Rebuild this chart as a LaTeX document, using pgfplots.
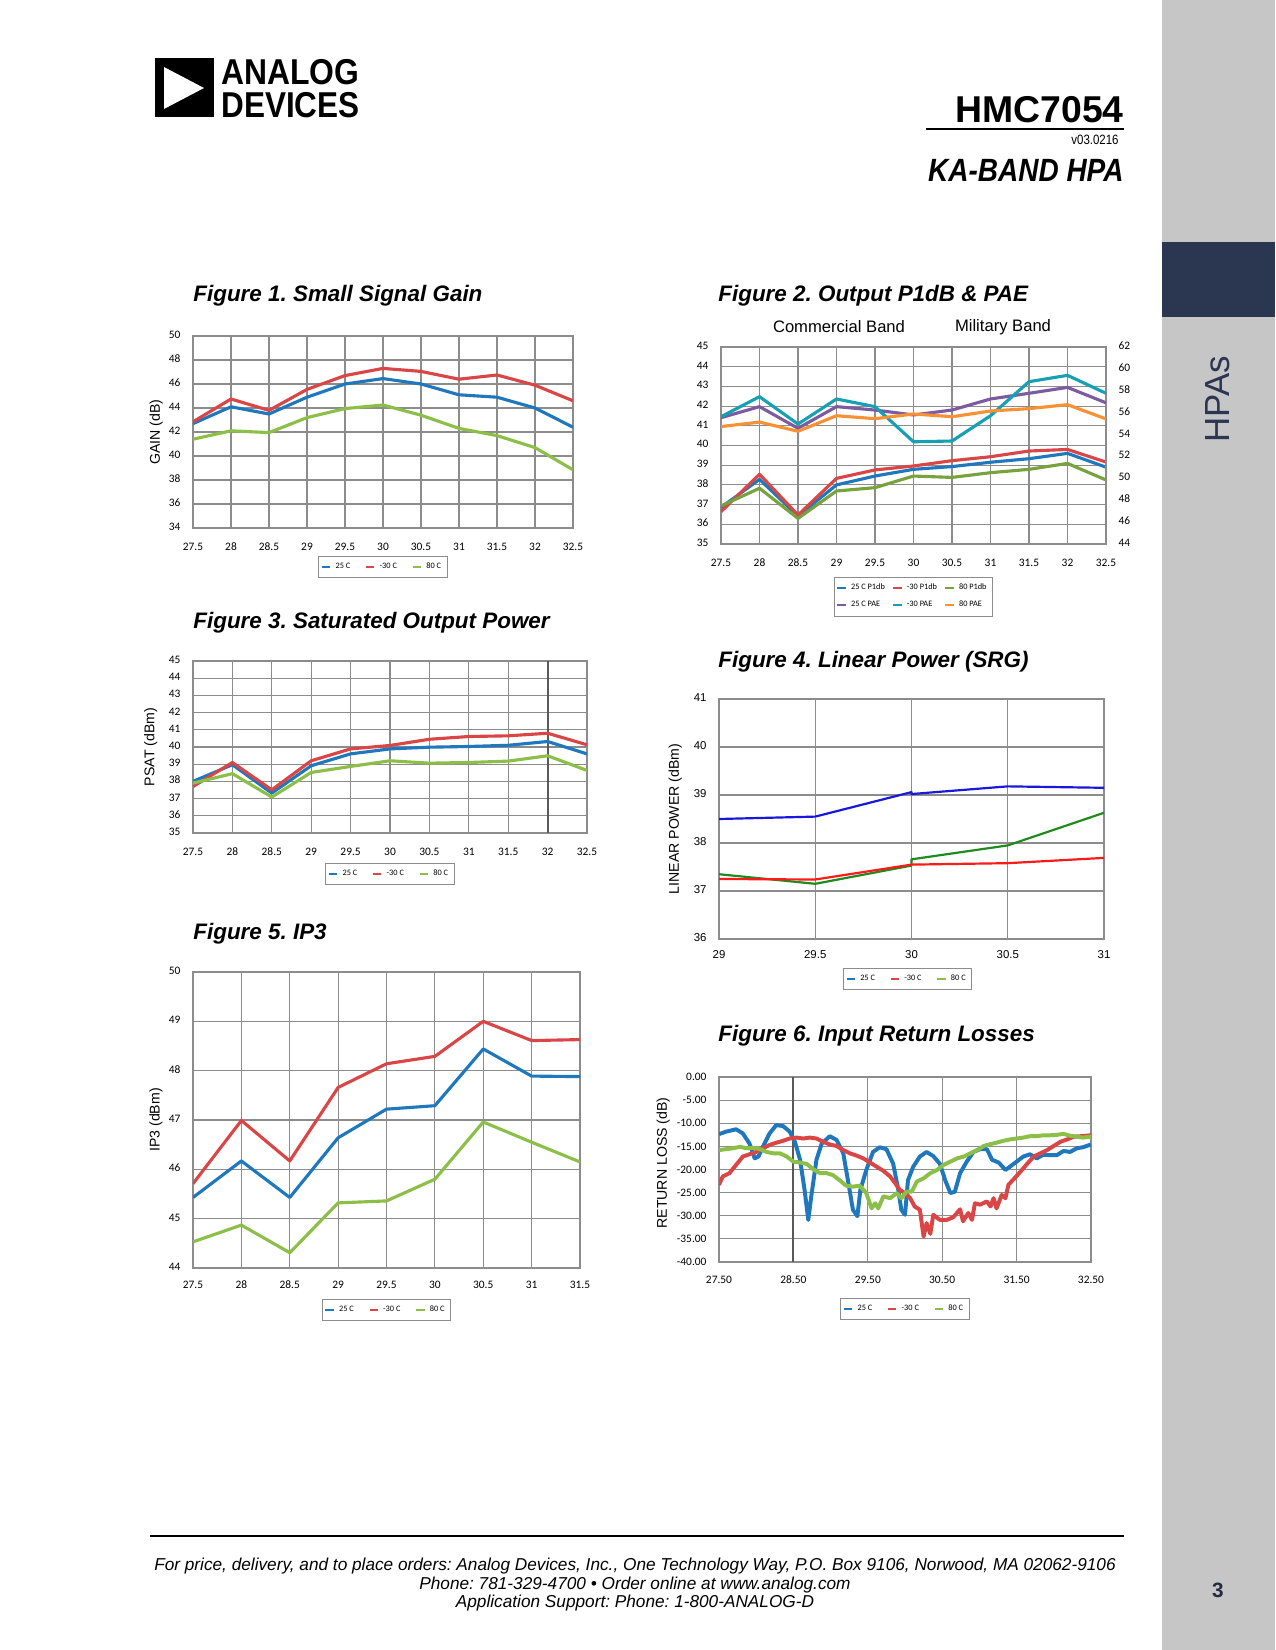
\documentclass[border=0pt]{standalone}
\usepackage{pgfplots}
\pgfplotsset{compat=1.18}
\usepackage{fontspec}
\usepackage{graphicx}
\setmainfont{Liberation Sans}
\newfontfamily\carlito{Carlito}
\frenchspacing

\definecolor{cblue}{HTML}{1F78BE}
\definecolor{cred}{HTML}{DA4646}
\definecolor{cgreen}{HTML}{8CBF47}
\definecolor{cpurple}{HTML}{7D5BA0}
\definecolor{cteal}{HTML}{15A0B3}
\definecolor{corange}{HTML}{F79134}
\definecolor{lblue}{HTML}{1818DC}
\definecolor{lred}{HTML}{FF1A1A}
\definecolor{lgreen}{HTML}{1F8A1F}
\definecolor{gridgray}{HTML}{8C8C8C}
\definecolor{sidegray}{HTML}{C6C6C6}
\definecolor{navy}{HTML}{2B3650}

% 1 px of the 1275x1650 page
\def\U{0.48bp}

\pgfplotsset{
  legend image code/.code={\draw[#1, line width=1.1bp] (0bp,0bp) -- (4bp,0bp);},
  adi/.style={
    scale only axis, anchor=south west,
    axis line style={draw=gridgray, line width=0.9bp},
    grid=major,
    major grid style={draw=gridgray, line width=0.5bp},
    major tick length=0pt,
    /pgf/number format/assume math mode=true,
    typeset ticklabels with strut,
    tick label style={font=\carlito\fontsize{5.5}{6}\selectfont},
    xticklabel style={yshift=-3bp},
    yticklabel style={xshift=-2.5bp},
    every axis plot/.append style={line width=1.5bp, line join=round},
    legend style={font=\carlito\fontsize{4}{4.5}\selectfont, draw=gridgray, line width=0.4bp,
      inner sep=1bp, legend columns=3,
      /tikz/every even column/.append style={column sep=5bp}},
    legend cell align=left,
  },
  ylab/.style={every axis y label/.style={at={(axis description cs:#1,0.5)}, rotate=90,
    anchor=center, font=\fontsize{6.8}{8}\selectfont}},
}

\begin{document}
\begin{tikzpicture}
\useasboundingbox (0,0) rectangle (1275*\U,-1650*\U);
\fill[white] (0,0) rectangle (1275*\U,-1650*\U);

% side bar
\fill[sidegray] (1162*\U,0) rectangle (1275*\U,-1650*\U);
\fill[navy] (1162*\U,-242*\U) rectangle (1275*\U,-317*\U);
\node[rotate=90, text=navy, inner sep=0] at (1218*\U,-399*\U) {\fontsize{16.8}{17}\selectfont HPAs};
\node[anchor=base, text=navy!80!black, inner sep=0] at (1218*\U,-1597*\U) {\fontsize{10}{12}\selectfont\bfseries 3};

% header
\fill[black] (155*\U,-58*\U) rectangle (214*\U,-117*\U);
\fill[white] (164*\U,-67*\U) -- (204*\U,-88*\U) -- (164*\U,-109*\U) -- cycle;
\node[anchor=base west, inner sep=0] at (221*\U,-84*\U) {\fontsize{16.5}{16.5}\selectfont\bfseries\scalebox{0.93}[1.05]{ANALOG}};
\node[anchor=base west, inner sep=0] at (221*\U,-117*\U) {\fontsize{16.5}{16.5}\selectfont\bfseries\scalebox{0.92}[1.05]{DEVICES}};
\node[anchor=base east, inner sep=0] at (1124*\U,-122*\U) {\fontsize{18}{18}\selectfont\bfseries HMC7054};
\draw[line width=1.1bp] (926*\U,-129*\U) -- (1124*\U,-129*\U);
\node[anchor=base east, inner sep=0] at (1119*\U,-144*\U) {\fontsize{6.5}{7}\selectfont\scalebox{0.85}[1]{v03.0216}};
\node[anchor=base east, inner sep=0] at (1124*\U,-181*\U) {\fontsize{15.5}{16}\selectfont\bfseries\itshape\scalebox{0.87}[1]{KA-BAND HPA}};

% footer
\draw[line width=0.7bp] (150*\U,-1536*\U) -- (1124*\U,-1536*\U);
\node[anchor=base, inner sep=0] at (635*\U,-1570*\U) {\fontsize{8.3}{9}\selectfont\itshape For price, delivery, and to place orders: Analog Devices, Inc., One Technology Way, P.O. Box 9106, Norwood, MA 02062-9106};
\node[anchor=base, inner sep=0] at (635*\U,-1589*\U) {\fontsize{8.3}{9}\selectfont\itshape Phone: 781-329-4700 • Order online at www.analog.com};
\node[anchor=base, inner sep=0] at (635*\U,-1607*\U) {\fontsize{8.3}{9}\selectfont\itshape Application Support: Phone: 1-800-ANALOG-D};

% figure titles
\tikzset{figtitle/.style={anchor=base west, inner sep=0, font=\fontsize{10.8}{12}\selectfont\bfseries\itshape}}
\node[figtitle] at (193*\U,-301*\U) {Figure 1. Small Signal Gain};
\node[figtitle] at (718*\U,-301*\U) {Figure 2. Output P1dB \& PAE};
\node[figtitle] at (193*\U,-628*\U) {Figure 3. Saturated Output Power};
\node[figtitle] at (718*\U,-667*\U) {Figure 4. Linear Power (SRG)};
\node[figtitle] at (193*\U,-939*\U) {Figure 5. IP3};
\node[figtitle] at (718*\U,-1041*\U) {Figure 6. Input Return Losses};
\node[font=\fontsize{8}{9}\selectfont] at (839*\U,-327*\U) {Commercial Band};
\node[font=\fontsize{8}{9}\selectfont] at (1003*\U,-327*\U) {Military Band};

% ---------- Figure 1
\begin{axis}[adi, at={(193*\U,-528*\U)}, width=182.4bp, height=92.16bp,
  xmin=27.5, xmax=32.5, ymin=34, ymax=50,
  xtick={27.5,28,28.5,29,29.5,30,30.5,31,31.5,32,32.5}, ytick={34,36,38,40,42,44,46,48,50},
  ylabel={GAIN (dB)}, ylab=-0.097,
  legend style={at={(0.5,-0.146)}, anchor=north}]
\addplot[cblue] coordinates {(27.5,42.7) (28,44.1) (28.5,43.5) (29,44.9) (29.5,46.0) (30,46.45) (30.5,46.0) (31,45.1) (31.5,44.9) (32,44.0) (32.5,42.4)};
\addlegendentry{25 C}
\addplot[cred] coordinates {(27.5,42.85) (28,44.75) (28.5,43.8) (29,45.55) (29.5,46.7) (30,47.3) (30.5,47.05) (31,46.4) (31.5,46.75) (32,45.9) (32.5,44.6)};
\addlegendentry{-30 C}
\addplot[cgreen] coordinates {(27.5,41.4) (28,42.1) (28.5,41.95) (29,43.2) (29.5,43.95) (30,44.25) (30.5,43.4) (31,42.3) (31.5,41.7) (32,40.7) (32.5,38.85)};
\addlegendentry{80 C}
\end{axis}

% ---------- Figure 2
\begin{axis}[adi, at={(721*\U,-544*\U)}, width=184.8bp, height=94.56bp,
  xmin=27.5, xmax=32.5, ymin=35, ymax=45,
  xtick={27.5,28,28.5,29,29.5,30,30.5,31,31.5,32,32.5}, ytick={35,36,...,45},
  legend style={at={(0.5,-0.168)}, anchor=north, row sep=0bp,
    /tikz/every even column/.append style={column sep=1.5bp}}]
\addplot[cblue] coordinates {(27.5,36.86) (28,38.28) (28.5,36.42) (29,38.0) (29.5,38.45) (30,38.79) (30.5,38.93) (31,39.15) (31.5,39.33) (32,39.6) (32.5,38.9)};
\addlegendentry{25 C P1db}
\addplot[cred] coordinates {(27.5,36.64) (28,38.54) (28.5,36.47) (29,38.33) (29.5,38.76) (30,38.96) (30.5,39.23) (31,39.43) (31.5,39.72) (32,39.8) (32.5,39.16)};
\addlegendentry{-30 P1db}
\addplot[cgreen!85!black] coordinates {(27.5,36.93) (28,37.83) (28.5,36.3) (29,37.69) (29.5,37.86) (30,38.45) (30.5,38.38) (31,38.62) (31.5,38.79) (32,39.09) (32.5,38.25)};
\addlegendentry{80 P1db}
\addlegendimage{cpurple}
\addlegendentry{25 C PAE}
\addlegendimage{cteal}
\addlegendentry{-30 PAE}
\addlegendimage{corange}
\addlegendentry{80 PAE}
\end{axis}
\begin{axis}[adi, at={(721*\U,-544*\U)}, width=184.8bp, height=94.56bp,
  xmin=27.5, xmax=32.5, ymin=44, ymax=62, ytick={44,46,...,62},
  axis y line*=right, axis x line=none, grid=none,
  yticklabel style={xshift=5bp}]
\addplot[cpurple] coordinates {(27.5,55.54) (28,56.55) (28.5,54.57) (29,56.55) (29.5,56.24) (30,55.79) (30.5,56.24) (31,57.25) (31.5,57.77) (32,58.31) (32.5,56.9)};
\addplot[cteal] coordinates {(27.5,55.63) (28,57.46) (28.5,54.96) (29,57.25) (29.5,56.55) (30,53.34) (30.5,53.41) (31,55.72) (31.5,58.83) (32,59.41) (32.5,57.77)};
\addplot[corange] coordinates {(27.5,54.73) (28,55.14) (28.5,54.3) (29,55.72) (29.5,55.45) (30,55.88) (30.5,55.63) (31,56.15) (31.5,56.37) (32,56.73) (32.5,55.43)};
\end{axis}

% ---------- Figure 3
\begin{axis}[adi, at={(193*\U,-833*\U)}, width=189.12bp, height=82.56bp,
  xmin=27.5, xmax=32.5, ymin=35, ymax=45,
  xtick={27.5,28,28.5,29,29.5,30,30.5,31,31.5,32,32.5}, ytick={35,36,...,45},
  extra x ticks={32}, extra x tick labels={},
  extra x tick style={grid=major, major grid style={draw=gray!70!black, line width=0.9bp}},
  ylabel={PSAT (dBm)}, ylab=-0.107,
  legend style={at={(0.5,-0.174)}, anchor=north}]
\addplot[cblue] coordinates {(27.5,38.0) (28,38.97) (28.5,37.32) (29,38.91) (29.5,39.6) (30,39.89) (30.5,39.99) (31,40.03) (31.5,40.1) (32,40.32) (32.5,39.6)};
\addlegendentry{25 C}
\addplot[cred] coordinates {(27.5,37.7) (28,39.1) (28.5,37.51) (29,39.2) (29.5,39.89) (30,40.09) (30.5,40.45) (31,40.61) (31.5,40.65) (32,40.8) (32.5,40.13)};
\addlegendentry{-30 C}
\addplot[cgreen] coordinates {(27.5,37.9) (28,38.45) (28.5,37.09) (29,38.52) (29.5,38.87) (30,39.2) (30.5,39.06) (31,39.1) (31.5,39.18) (32,39.49) (32.5,38.64)};
\addlegendentry{80 C}
\end{axis}

% ---------- Figure 4
\begin{axis}[adi, at={(719*\U,-939*\U)}, width=184.8bp, height=115.2bp,
  xmin=29, xmax=31, ymin=36, ymax=41,
  xtick={29,29.5,30,30.5,31}, ytick={36,37,38,39,40,41},
  tick label style={font=\fontsize{5.5}{6}\selectfont},
  xticklabel style={yshift=1.5bp},
  every axis plot/.append style={line width=1.05bp},
  ylabel={LINEAR POWER (dBm)}, ylab=-0.114,
  legend style={at={(0.49,-0.121)}, anchor=north}]
\addlegendimage{cblue}
\addlegendentry{25 C}
\addlegendimage{cred}
\addlegendentry{-30 C}
\addlegendimage{cgreen}
\addlegendentry{80 C}
\addplot[lblue] coordinates {(29,38.5) (29.5,38.55) (30,39.06) (30,39.02) (30.5,39.18) (31,39.15)};
\addplot[lgreen] coordinates {(29,37.35) (29.5,37.15) (30,37.53) (30,37.66) (30.5,37.95) (31,38.63)};
\addplot[lred] coordinates {(29,37.25) (29.5,37.24) (30,37.55) (30.5,37.58) (31,37.69)};
\end{axis}

% ---------- Figure 5
\begin{axis}[adi, at={(193*\U,-1268*\U)}, width=185.76bp, height=142.08bp,
  xmin=27.5, xmax=31.5, ymin=44, ymax=50,
  xtick={27.5,28,28.5,29,29.5,30,30.5,31,31.5}, ytick={44,45,...,50},
  xticklabel style={yshift=1bp},
  ylabel={IP3 (dBm)}, ylab=-0.096,
  legend style={at={(0.5,-0.105)}, anchor=north}]
\addplot[cblue] coordinates {(27.5,45.43) (28,46.17) (28.5,45.43) (29,46.64) (29.5,47.22) (30,47.29) (30.5,48.44) (31,47.89) (31.5,47.88)};
\addlegendentry{25 C}
\addplot[cred] coordinates {(27.5,45.71) (28,46.99) (28.5,46.17) (29,47.66) (29.5,48.14) (30,48.29) (30.5,49.0) (31,48.61) (31.5,48.63)};
\addlegendentry{-30 C}
\addplot[cgreen] coordinates {(27.5,44.53) (28,44.87) (28.5,44.31) (29,45.32) (29.5,45.36) (30,45.8) (30.5,46.96) (31,46.55) (31.5,46.15)};
\addlegendentry{80 C}
\end{axis}

% ---------- Figure 6
\begin{axis}[adi, at={(719*\U,-1262*\U)}, width=178.56bp, height=88.8bp,
  xmin=27.5, xmax=32.5, ymin=-40, ymax=0,
  xtick={27.5,28.5,29.5,30.5,31.5,32.5}, ytick={-40,-35,...,0},
  xticklabel={\pgfmathprintnumber[fixed,fixed zerofill,precision=2,assume math mode=true]{\tick}},
  yticklabel={\pgfmathprintnumber[fixed,fixed zerofill,precision=2,assume math mode=true]{\tick}},
  xticklabel style={yshift=0bp},
  extra x ticks={28.5}, extra x tick labels={},
  extra x tick style={grid=major, major grid style={draw=gray!70!black, line width=0.9bp}},
  every axis plot/.append style={line width=1.9bp},
  ylabel={RETURN LOSS (dB)},
  every axis y label/.style={at={(axis description cs:-0.15,0.535)}, rotate=90, anchor=center, font=\fontsize{6.8}{8}\selectfont},
  legend style={at={(0.5,-0.195)}, anchor=north}]
\addplot[cblue] coordinates {(27.5,-12.35) (27.6,-11.8) (27.73,-11.3) (27.82,-12.2) (27.91,-14.4) (27.98,-17.6) (28.03,-17.2) (28.09,-15.1) (28.18,-12.2) (28.27,-10.4) (28.36,-10.6) (28.45,-11.8) (28.52,-14.0) (28.59,-17.9) (28.65,-24.4) (28.7,-30.9) (28.74,-25.8) (28.81,-17.9) (28.88,-14.4) (28.99,-12.8) (29.08,-13.6) (29.17,-16.5) (29.24,-23.0) (29.3,-28.7) (29.36,-30.1) (29.4,-24.4) (29.48,-20.1) (29.57,-16.2) (29.66,-15.2) (29.75,-15.6) (29.84,-18.7) (29.91,-24.4) (29.95,-28.7) (30.0,-29.8) (30.04,-22.3) (30.11,-19.4) (30.2,-17.2) (30.29,-16.2) (30.38,-17.1) (30.47,-18.8) (30.54,-22.3) (30.61,-25.1) (30.67,-24.8) (30.74,-20.8) (30.83,-18.3) (30.92,-16.2) (31.01,-15.6) (31.1,-15.6) (31.17,-17.9) (31.26,-18.5) (31.35,-20.1) (31.41,-19.4) (31.5,-18.3) (31.59,-17.2) (31.68,-16.7) (31.77,-17.6) (31.86,-16.8) (31.95,-16.9) (32.04,-16.9) (32.13,-16.0) (32.22,-16.2) (32.31,-15.4) (32.39,-15.2) (32.5,-14.6)};
\addlegendentry{25 C}
\addplot[cred] coordinates {(27.5,-23.3) (27.55,-21.5) (27.64,-20.8) (27.73,-19.0) (27.82,-17.2) (27.91,-16.7) (28.0,-16.2) (28.09,-15.4) (28.18,-14.7) (28.27,-14.2) (28.36,-13.8) (28.45,-13.3) (28.54,-13.1) (28.63,-13.3) (28.72,-13.1) (28.81,-13.3) (28.9,-14.0) (28.99,-14.6) (29.08,-14.9) (29.17,-15.8) (29.26,-16.5) (29.35,-17.0) (29.44,-17.6) (29.53,-18.5) (29.62,-19.4) (29.71,-20.3) (29.8,-21.5) (29.87,-23.0) (29.93,-24.4) (30.0,-25.1) (30.07,-26.2) (30.13,-28.0) (30.2,-28.7) (30.25,-34.5) (30.29,-31.6) (30.34,-33.9) (30.38,-29.8) (30.47,-30.9) (30.56,-30.9) (30.65,-30.3) (30.74,-28.6) (30.78,-31.2) (30.85,-29.4) (30.9,-30.9) (30.94,-27.3) (31.01,-27.6) (31.1,-26.9) (31.15,-28.0) (31.19,-26.2) (31.23,-28.4) (31.3,-25.5) (31.35,-26.2) (31.39,-23.3) (31.46,-22.1) (31.55,-20.5) (31.64,-18.8) (31.73,-17.2) (31.82,-16.5) (31.91,-15.8) (32.0,-14.9) (32.09,-14.0) (32.18,-13.5) (32.27,-12.9) (32.36,-12.8) (32.5,-12.6)};
\addlegendentry{-30 C}
\addplot[cgreen] coordinates {(27.5,-15.8) (27.6,-15.6) (27.69,-15.4) (27.78,-15.1) (27.87,-15.4) (27.96,-15.3) (28.05,-15.6) (28.14,-16.2) (28.23,-16.5) (28.32,-16.5) (28.41,-17.2) (28.5,-18.3) (28.59,-18.5) (28.68,-18.8) (28.77,-20.0) (28.86,-20.8) (28.95,-20.8) (29.03,-21.2) (29.12,-22.3) (29.21,-23.5) (29.3,-23.7) (29.39,-23.5) (29.48,-25.1) (29.55,-28.4) (29.6,-27.3) (29.64,-28.4) (29.71,-25.8) (29.8,-26.2) (29.89,-25.1) (29.95,-26.2) (30.02,-24.8) (30.09,-24.8) (30.16,-22.6) (30.25,-21.9) (30.34,-20.8) (30.43,-20.1) (30.52,-19.0) (30.61,-18.3) (30.7,-17.6) (30.79,-17.2) (30.88,-16.5) (30.97,-15.8) (31.06,-14.9) (31.15,-14.5) (31.23,-14.2) (31.32,-13.8) (31.41,-13.5) (31.5,-13.3) (31.59,-13.1) (31.68,-12.8) (31.77,-12.8) (31.86,-12.6) (31.95,-12.6) (32.04,-12.5) (32.13,-12.3) (32.22,-12.7) (32.31,-12.9) (32.39,-13.1) (32.5,-12.9)};
\addlegendentry{80 C}
\end{axis}
\end{tikzpicture}
\end{document}
